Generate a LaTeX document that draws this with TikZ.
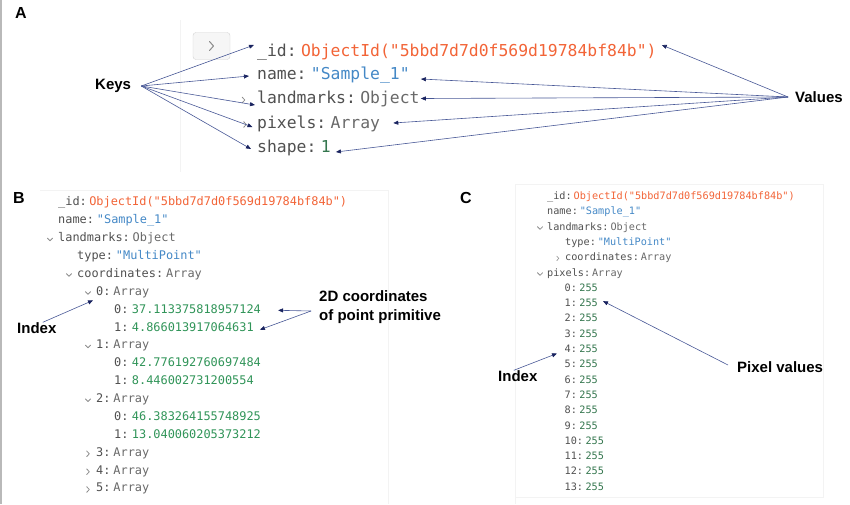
\documentclass[tikz,border=0pt]{standalone}
\usepackage{fontspec}
\setmainfont{Liberation Sans}
\newfontfamily\codefont{DejaVu Sans Mono}
\usetikzlibrary{arrows.meta}
\definecolor{keycol}{RGB}{80,80,80}
\definecolor{typecol}{RGB}{105,105,105}
\definecolor{oidcol}{RGB}{242,100,55}
\definecolor{strcol}{RGB}{68,136,198}
\definecolor{numcol}{RGB}{48,148,88}
\definecolor{numdark}{RGB}{52,118,78}
\definecolor{chevcol}{RGB}{140,140,140}
\definecolor{arrline}{RGB}{72,88,150}
\definecolor{arrtip}{RGB}{25,35,95}
\definecolor{panelline}{RGB}{243,243,243}
\newcommand\chevdn[2]{\draw[chev] (#1,#2) ++(-2.6,-1.3) -- ++(2.6,2.6) -- ++(2.6,-2.6);}
\newcommand\chevrt[2]{\draw[chev] (#1,#2) ++(-1.3,-2.8) -- ++(2.6,2.8) -- ++(-2.6,2.8);}
\begin{document}
\begin{tikzpicture}[x=1pt,y=-1pt,
  monoA/.style={font=\codefont\fontsize{16.4}{19}\selectfont, inner sep=0pt, anchor=west, text height=12pt, text depth=4pt},
  monoB/.style={font=\codefont\fontsize{11.9}{14}\selectfont, inner sep=0pt, anchor=west, text height=8.7pt, text depth=2.9pt},
  monoC/.style={font=\codefont\fontsize{10.2}{12}\selectfont, inner sep=0pt, anchor=west, text height=7.5pt, text depth=2.5pt},
  lbl/.style={font=\bfseries\fontsize{15}{19}\selectfont, inner sep=0pt, anchor=west},
  panel/.style={font=\bfseries\fontsize{16}{18}\selectfont, inner sep=0pt, anchor=west},
  chev/.style={draw=chevcol, line width=0.8pt, line cap=round, line join=round},
  arr/.style={draw=arrline, line width=0.6pt, -{Triangle[length=5pt,width=4pt,color=arrtip]}},
  faint/.style={draw=panelline, line width=0.8pt}
]
\useasboundingbox (0,0) rectangle (850,504);
\fill[gray!55] (0,0) rectangle (2,504);

% faint panel frames
\draw[faint] (180,20) -- (180,172);
\draw[faint] (40,190) -- (388,190) -- (388,504);
\draw[faint] (515,504) -- (515,184) -- (823,184) -- (823,497) -- (515,497);

% ---------------- Panel A ----------------
\node[panel] (pA) at (15,12.5) {A};
\node[draw=gray!35, fill=gray!7, rounded corners=3pt, minimum width=37pt, minimum height=27pt, inner sep=0pt] (btn) at (211.5,46) {};
\draw[chev, line width=1pt] (btn.center) ++(-2,-4.5) -- ++(4,4.5) -- ++(-4,4.5);

\node[monoA, text=keycol] (kA1) at (257,52) {\_id:};
\node[monoA, text=oidcol] (vA1) at ([xshift=4]kA1.east) {ObjectId("5bbd7d7d0f569d19784bf84b")};
\node[monoA, text=keycol] (kA2) at (257,75.5) {name:};
\node[monoA, text=strcol] (vA2) at ([xshift=4]kA2.east) {"Sample\_1"};
\node[monoA, text=keycol] (kA3) at (257,99.5) {landmarks:};
\node[monoA, text=typecol] (vA3) at ([xshift=4]kA3.east) {Object};
\node[monoA, text=keycol] (kA4) at (257,124) {pixels:};
\node[monoA, text=typecol] (vA4) at ([xshift=4]kA4.east) {Array};
\node[monoA, text=keycol] (kA5) at (257,148) {shape:};
\node[monoA, text=numdark] (vA5) at ([xshift=4]kA5.east) {1};
\chevrt{243.5}{100}
\chevrt{245}{124.5}

\node[lbl] (keys) at (95,86) {Keys};
\node[lbl] (values) at (795,97) {Values};

\draw[arr] ([xshift=10]keys.east) -- ([shift={(-3,-7)}]kA1.west);
\draw[arr] ([xshift=10]keys.east) -- ([shift={(-8,0.5)}]kA2.west);
\draw[arr] ([xshift=10]keys.east) -- ([shift={(-2,5.5)}]kA3.west);
\draw[arr] ([xshift=10]keys.east) -- ([shift={(-4.5,3)}]kA4.west);
\draw[arr] ([xshift=10]keys.east) -- ([shift={(-6,1)}]kA5.west);

\draw[arr] ([xshift=-7]values.west) -- ([shift={(5,-7)}]vA1.east);
\draw[arr] ([xshift=-7]values.west) -- ([shift={(11,3.5)}]vA2.east);
\draw[arr] ([xshift=-7]values.west) -- ([shift={(1,-1)}]vA3.east);
\draw[arr] ([xshift=-7]values.west) -- ([shift={(13,-1)}]vA4.east);
\draw[arr] ([xshift=-7]values.west) -- ([shift={(5,4)}]vA5.east);

% ---------------- Panel B ----------------
\node[panel] (pB) at (13,198) {B};
\node[monoB, text=keycol] (kB0) at (58,203) {\_id:};
\node[monoB, text=oidcol] (vB0) at ([xshift=2]kB0.east) {ObjectId("5bbd7d7d0f569d19784bf84b")};
\node[monoB, text=keycol] (kB1) at (58,221) {name:};
\node[monoB, text=strcol] (vB1) at ([xshift=2.5]kB1.east) {"Sample\_1"};
\node[monoB, text=keycol] (kB2) at (58,239) {landmarks:};
\node[monoB, text=typecol] (vB2) at ([xshift=2.5]kB2.east) {Object};
\node[monoB, text=keycol] (kB3) at (77,257) {type:};
\node[monoB, text=strcol] (vB3) at ([xshift=2.5]kB3.east) {"MultiPoint"};
\node[monoB, text=keycol] (kB4) at (77,274.5) {coordinates:};
\node[monoB, text=typecol] (vB4) at ([xshift=2.5]kB4.east) {Array};
\node[monoB, text=keycol] (kB5) at (96,292.4) {0:};
\node[monoB, text=typecol] (vB5) at ([xshift=2.5]kB5.east) {Array};
\node[monoB, text=keycol] (kB6) at (114,310.3) {0:};
\node[monoB, text=numcol] (vB6) at ([xshift=3]kB6.east) {37.113375818957124};
\node[monoB, text=keycol] (kB7) at (114,328.2) {1:};
\node[monoB, text=numcol] (vB7) at ([xshift=3]kB7.east) {4.866013917064631};
\node[monoB, text=keycol] (kB8) at (96,346) {1:};
\node[monoB, text=typecol] (vB8) at ([xshift=2.5]kB8.east) {Array};
\node[monoB, text=keycol] (kB9) at (114,364) {0:};
\node[monoB, text=numcol] (vB9) at ([xshift=3]kB9.east) {42.776192760697484};
\node[monoB, text=keycol] (kB10) at (114,381.8) {1:};
\node[monoB, text=numcol] (vB10) at ([xshift=3]kB10.east) {8.446002731200554};
\node[monoB, text=keycol] (kB11) at (96,399.7) {2:};
\node[monoB, text=typecol] (vB11) at ([xshift=2.5]kB11.east) {Array};
\node[monoB, text=keycol] (kB12) at (114,417.6) {0:};
\node[monoB, text=numcol] (vB12) at ([xshift=3]kB12.east) {46.383264155748925};
\node[monoB, text=keycol] (kB13) at (114,435.4) {1:};
\node[monoB, text=numcol] (vB13) at ([xshift=3]kB13.east) {13.040060205373212};
\node[monoB, text=keycol] (kB14) at (96,453.3) {3:};
\node[monoB, text=typecol] (vB14) at ([xshift=2.5]kB14.east) {Array};
\node[monoB, text=keycol] (kB15) at (96,471.2) {4:};
\node[monoB, text=typecol] (vB15) at ([xshift=2.5]kB15.east) {Array};
\node[monoB, text=keycol] (kB16) at (96,489) {5:};
\node[monoB, text=typecol] (vB16) at ([xshift=2.5]kB16.east) {Array};
\chevdn{50}{239.5}
\chevdn{69}{275}
\chevdn{88}{293}
\chevdn{88}{346.5}
\chevdn{88}{400.2}
\chevrt{88}{453.8}
\chevrt{88}{471.7}
\chevrt{88}{489.5}

\node[lbl] (idxB) at (17,328) {Index};
\node[lbl, align=left] (coordlbl) at (319,307.5) {2D coordinates\\of point primitive};
\draw[arr] ([xshift=6]idxB.north) -- ([shift={(-3,8)}]kB5.west);
\draw[arr] ([shift={(-8,3.5)}]coordlbl.west) -- ([xshift=17]vB6.east);
\draw[arr] ([shift={(-8,3.5)}]coordlbl.west) -- ([shift={(6,1.5)}]vB7.east);

% ---------------- Panel C ----------------
\node[panel] (pC) at (460,198) {C};
\node[monoC, text=keycol] (kC0) at (547,197) {\_id:};
\node[monoC, text=oidcol] (vC0) at ([xshift=1.5]kC0.east) {ObjectId("5bbd7d7d0f569d19784bf84b")};
\node[monoC, text=keycol] (kC1) at (547,212.3) {name:};
\node[monoC, text=strcol] (vC1) at ([xshift=1.5]kC1.east) {"Sample\_1"};
\node[monoC, text=keycol] (kC2) at (547,227.6) {landmarks:};
\node[monoC, text=typecol] (vC2) at ([xshift=1.5]kC2.east) {Object};
\node[monoC, text=keycol] (kC3) at (565,242.9) {type:};
\node[monoC, text=strcol] (vC3) at ([xshift=1.5]kC3.east) {"MultiPoint"};
\node[monoC, text=keycol] (kC4) at (565,258.2) {coordinates:};
\node[monoC, text=typecol] (vC4) at ([xshift=1.5]kC4.east) {Array};
\node[monoC, text=keycol] (kC5) at (547,273.5) {pixels:};
\node[monoC, text=typecol] (vC5) at ([xshift=1.5]kC5.east) {Array};
\chevdn{540}{228}
\chevdn{540}{274}
\draw[chev, line width=0.6pt] (556.8,256.2) -- (558.8,258.4) -- (556.8,260.6);
\foreach \k in {0,...,13} {
  \node[monoC, text=keycol] (ck\k) at (564.5,{288.8+15.3*\k}) {\k:};
  \node[monoC, text=numdark] (cv\k) at ([xshift=2]ck\k.east) {255};
}
\node[lbl] (idxC) at (498,376) {Index};
\node[lbl] (pixlbl) at (737,367) {Pixel values};
\draw[arr] ([xshift=-4]idxC.north) -- ([shift={(-7.5,3.5)}]ck4.west);
\draw[arr] ([shift={(-9,-2)}]pixlbl.west) -- ([shift={(5,-3)}]cv1.east);
\end{tikzpicture}
\end{document}
